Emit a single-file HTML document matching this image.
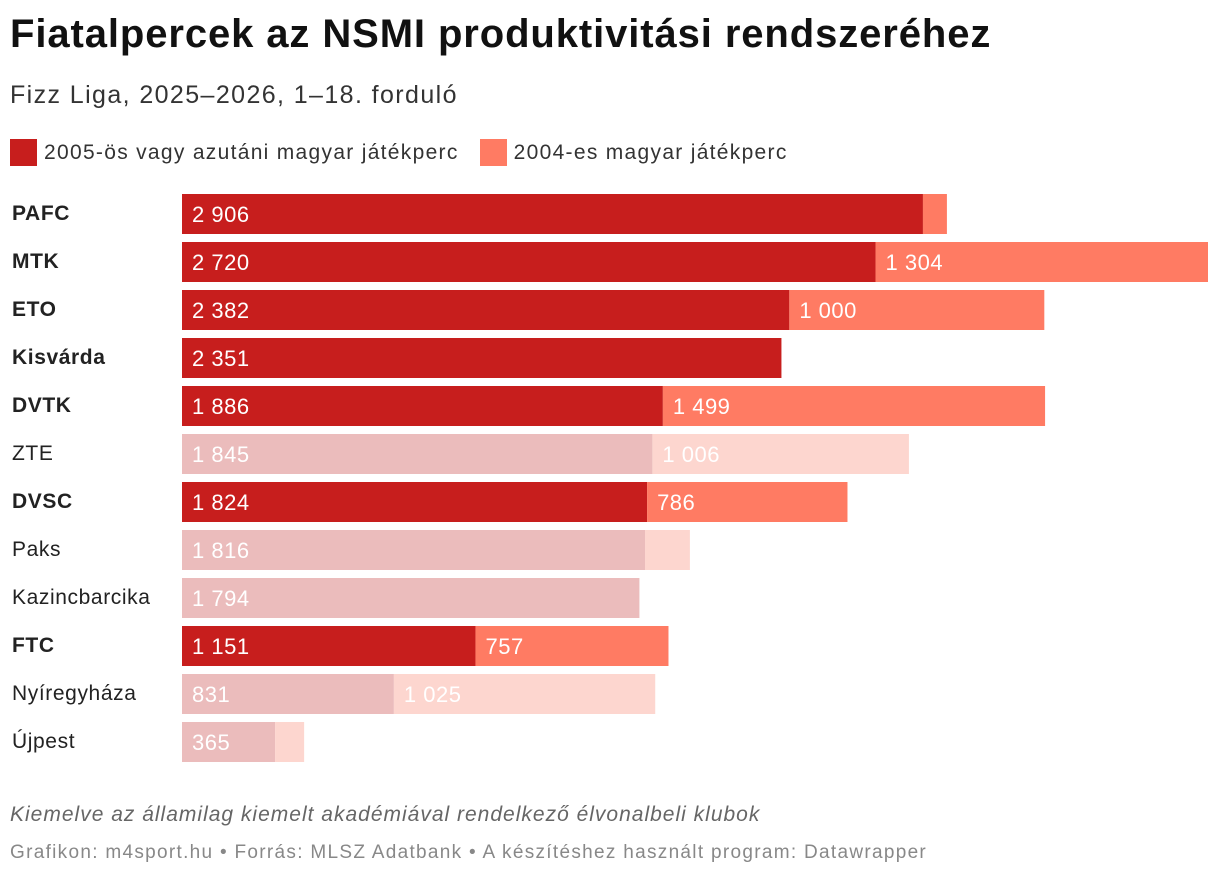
<!DOCTYPE html>
<html><head><meta charset="utf-8"><style>
body{margin:0;width:1220px;height:876px;background:#fff;font-family:"Liberation Sans",sans-serif;color:#222;position:relative;overflow:hidden}
.t{position:absolute;left:10px;white-space:nowrap}
</style></head><body>
<div class="t" style="top:12px;font-size:40px;letter-spacing:0.9px;font-weight:bold;color:#111">Fiatalpercek az NSMI produktivitási rendszeréhez</div>
<div class="t" style="top:81px;font-size:25px;letter-spacing:1.4px;color:#333">Fizz Liga, 2025–2026, 1–18. forduló</div>
<div style="position:absolute;left:10px;top:139px;font-size:21px;letter-spacing:1.3px;color:#333;display:flex;align-items:center">
<span style="width:27px;height:27px;background:#c71e1d;display:inline-block;margin-right:7px"></span><span style="margin-right:21px">2005-ös vagy azutáni magyar játékperc</span>
<span style="width:27px;height:27px;background:#ff7b63;display:inline-block;margin-right:7px"></span><span>2004-es magyar játékperc</span>
</div>
<svg id="c" width="1220" height="876" style="position:absolute;left:0;top:0"></svg>
<div class="t" style="top:803px;font-size:21px;letter-spacing:1px;font-style:italic;color:#666">Kiemelve az államilag kiemelt akadémiával rendelkező élvonalbeli klubok</div>
<div class="t" style="top:842px;font-size:19px;letter-spacing:1.3px;color:#888">Grafikon: m4sport.hu • Forrás: MLSZ Adatbank • A készítéshez használt program: Datawrapper</div>
<script>
const teams=["PAFC","MTK","ETO","Kisvárda","DVTK","ZTE","DVSC","Paks","Kazincbarcika","FTC","Nyíregyháza","Újpest"];
const young=[2906,2720,2382,2351,1886,1845,1824,1816,1794,1151,831,365];
const older=[94,1304,1000,0,1499,1006,786,176,0,757,1025,114];
const highlighted=[1,1,1,1,1,0,1,0,0,1,0,0];
const svg=document.getElementById('c');const NS="http://www.w3.org/2000/svg";
const x0=182,scale=1026/4024;
const x=v=>v*scale;
const rowY=i=>194+i*48;
function fmt(v){return String(v).replace(/\B(?=(\d{3})+(?!\d))/g," ");}
function mk(tag,a){const e=document.createElementNS(NS,tag);for(const k in a)e.setAttribute(k,a[k]);svg.appendChild(e);return e;}
teams.forEach((t,i)=>{
 const y=rowY(i),h=highlighted[i];
 const lb=mk('text',{x:12,y:y+26,'font-size':21,'letter-spacing':0.6,'font-weight':h?'bold':'normal',fill:'#222'});lb.textContent=t;
 
 
 const w1=x(young[i]);
 const r1=mk('rect',{x:x0,y:y,width:w1,height:40,fill:h?'#c71e1d':'#ebbcbc'});
 
 
 if(older[i]>0){const r2=mk('rect',{x:x0+w1,y:y,width:x(older[i]),height:40,fill:h?'#ff7b63':'#fdd6cf'});
 
 
 if(older[i]>=500){const v2=mk('text',{x:x0+w1+10,y:y+28,'font-size':22,'letter-spacing':0.5,fill:'#fff'});v2.textContent=fmt(older[i]);
 
 }}
 const v1=mk('text',{x:x0+10,y:y+28,'font-size':22,'letter-spacing':0.5,fill:'#fff'});v1.textContent=fmt(young[i]);
 
 
});
</script>
</body></html>
